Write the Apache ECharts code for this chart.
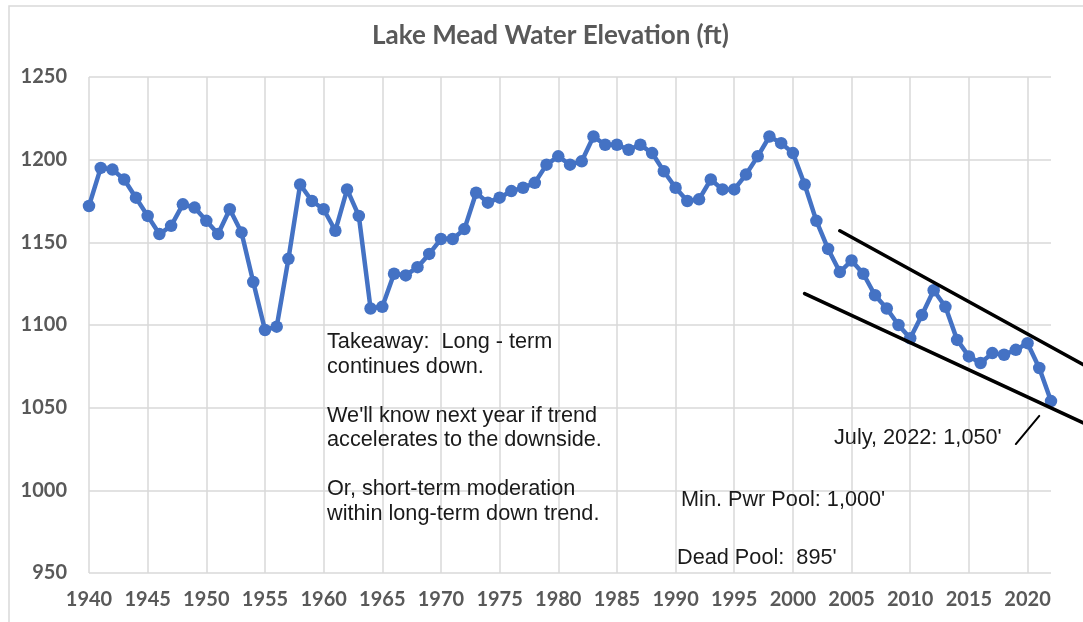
<!DOCTYPE html>
<html>
<head>
<meta charset="utf-8">
<title>Lake Mead Water Elevation</title>
<script src="https://cdn.jsdelivr.net/npm/echarts@6/dist/echarts.min.js"></script>
<style>
html, body { margin: 0; padding: 0; background: #fff; }
#main { width: 1083px; height: 622px; }
</style>
</head>
<body>
<div id="main"></div>
<script>
var firstYear = 1940, lastYear = 2022;
var years = [];
for (var yr = firstYear; yr <= lastYear; yr++) years.push(String(yr));

// elevation (ft), one per year 1940..2022
var elevation = [
    1172, 1195, 1194, 1188, 1177, 1166, 1155, 1160, 1173, 1171,   // 1940s
    1163, 1155, 1170, 1156, 1126, 1097, 1099, 1140, 1185, 1175,   // 1950s
    1170, 1157, 1182, 1166, 1110, 1111, 1131, 1130, 1135, 1143,   // 1960s
    1152, 1152, 1158, 1180, 1174, 1177, 1181, 1183, 1186, 1197,   // 1970s
    1202, 1197, 1199, 1214, 1209, 1209, 1206, 1209, 1204, 1193,   // 1980s
    1183, 1175, 1176, 1188, 1182, 1182, 1191, 1202, 1214, 1210,   // 1990s
    1204, 1185, 1163, 1146, 1132, 1139, 1131, 1118, 1110, 1100,   // 2000s
    1092, 1106, 1121, 1111, 1091, 1081, 1077, 1083, 1082, 1085,   // 2010s
    1089, 1074, 1054                                              // 2020s
];

var yTicks = [950, 1000, 1050, 1100, 1150, 1200, 1250];

// hand-drawn channel + pointer, as [year, ft]
var upperTrend = [[2004.3, 1157], [2024.8, 1075]];
var lowerTrend = [[2001.0, 1119], [2024.8, 1040]];
var pointerLine = [[2019.2, 1028], [2021.4, 1045]];

var takeaway = [
    'Takeaway:  Long - term',
    'continues down.',
    '',
    "We'll know next year if trend",
    'accelerates to the downside.',
    '',
    'Or, short-term moderation',
    'within long-term down trend.'
];
var julyNote = "July, 2022: 1,050'";
var powerNote = "Min. Pwr Pool: 1,000'";
var deadNote = "Dead Pool:  895'";

var gray = '#595959';
var gridGray = '#d9d9d9';
var labelFont = 'Lato, "Open Sans", sans-serif';
var noteFont = '"Liberation Sans", Arial, sans-serif';

var myChart = echarts.init(document.getElementById('main'));

var option = {
    backgroundColor: '#fff',
    animation: false,
    title: {
        text: 'Lake Mead Water Elevation (ft)',
        left: 372,
        top: 23,
        padding: 0,
        textStyle: { fontFamily: labelFont, fontWeight: 'bold', fontSize: 26, color: gray }
    },
    grid: { left: 89, right: 32, top: 77, bottom: 49, containLabel: false },
    xAxis: {
        type: 'category',
        data: years,
        boundaryGap: false,
        axisLine: { show: false },
        axisTick: { show: false },
        axisLabel: { interval: 4, margin: 17, color: gray, fontFamily: labelFont, fontWeight: 'bold', fontSize: 20 },
        splitLine: { show: true, interval: 4, lineStyle: { color: gridGray, width: 1.5 } }
    },
    yAxis: {
        type: 'value',
        min: yTicks[0],
        max: yTicks[yTicks.length - 1],
        interval: yTicks[1] - yTicks[0],
        axisLine: { show: false },
        axisTick: { show: false },
        axisLabel: {
            margin: 22, color: gray, fontFamily: labelFont, fontWeight: 'bold', fontSize: 20,
            formatter: function (v) { return String(v); }
        },
        splitLine: { lineStyle: { color: gridGray, width: 1.5 } }
    },
    series: [{
        name: 'Elevation',
        type: 'line',
        data: elevation,
        symbol: 'circle',
        symbolSize: 12.5,
        showAllSymbol: true,
        lineStyle: { color: '#4472c4', width: 4.5 },
        itemStyle: { color: '#4472c4' }
    }]
};
myChart.setOption(option);

function px(p) {
    return myChart.convertToPixel({ gridIndex: 0 }, [p[0] - firstYear, p[1]]);
}
function seg(pts, w) {
    var a = px(pts[0]), b = px(pts[1]);
    return {
        type: 'line',
        shape: { x1: a[0], y1: a[1], x2: b[0], y2: b[1] },
        style: { stroke: '#000', lineWidth: w, lineCap: 'round' },
        z: 10
    };
}
function note(text, x, top) {
    return {
        type: 'text',
        style: { text: text, x: x, y: top, font: '21.7px ' + noteFont, fill: '#1a1a1a', lineHeight: 24.5, verticalAlign: 'top' },
        z: 10
    };
}

myChart.setOption({
    graphic: [
        {   // chart area border
            type: 'rect',
            shape: { x: 9, y: 6, width: 1200, height: 800 },
            style: { fill: 'transparent', stroke: gridGray, lineWidth: 1.5 },
            silent: true
        },
        seg(upperTrend, 3.5),
        seg(lowerTrend, 3.5),
        seg(pointerLine, 2),
        note(takeaway.join('\n'), 327, 330),
        note(julyNote, 834, 426),
        note(powerNote, 681, 488),
        note(deadNote, 677, 546)
    ]
});
</script>
</body>
</html>
